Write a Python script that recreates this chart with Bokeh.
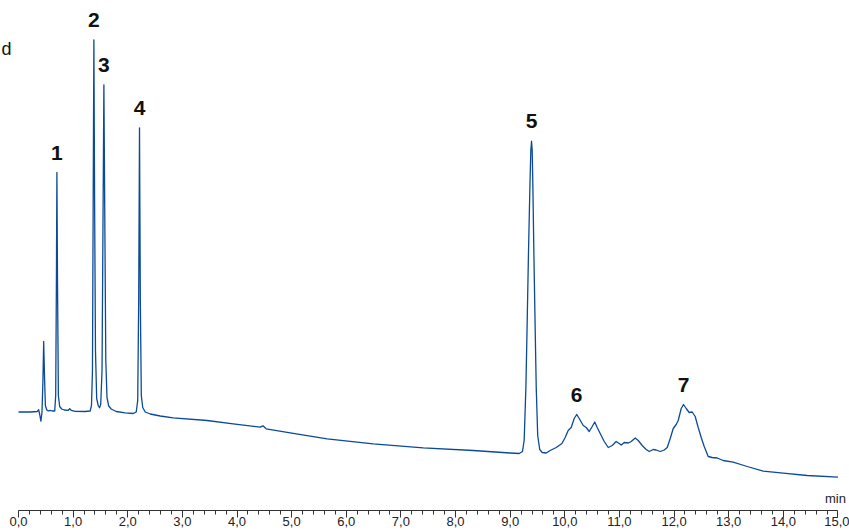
from bokeh.plotting import figure
from bokeh.models import FixedTicker, Range1d, Label, ColumnDataSource
from bokeh.core.properties import value
from bokeh.embed import file_html
from bokeh.resources import INLINE

# Chromatogram trace (time in min, signal in mAU)
time_min = [
    0.000, 0.214, 0.342, 0.370, 0.388, 0.410, 0.430, 0.447, 0.461, 0.478,
    0.492, 0.516, 0.544, 0.580, 0.617, 0.663, 0.681, 0.694, 0.703, 0.714,
    0.730, 0.754, 0.791, 0.837, 0.910, 0.937, 0.965, 1.038, 1.221, 1.312,
    1.336, 1.354, 1.367, 1.380, 1.393, 1.409, 1.431, 1.459, 1.483, 1.505,
    1.529, 1.547, 1.563, 1.580, 1.598, 1.620, 1.651, 1.697, 1.788, 1.953,
    2.100, 2.155, 2.182, 2.200, 2.215, 2.230, 2.248, 2.274, 2.320, 2.411,
    2.594, 2.832, 3.454, 3.930, 4.424, 4.474, 4.534, 4.974, 5.650, 6.493,
    7.408, 8.323, 9.000, 9.165, 9.225, 9.256, 9.288, 9.312, 9.335, 9.361,
    9.378, 9.391, 9.403, 9.416, 9.434, 9.455, 9.477, 9.504, 9.541, 9.587,
    9.660, 9.733, 9.843, 9.947, 10.007, 10.062, 10.117, 10.172, 10.218, 10.264,
    10.337, 10.392, 10.447, 10.502, 10.548, 10.593, 10.648, 10.722, 10.795, 10.868,
    10.941, 10.996, 11.033, 11.088, 11.161, 11.216, 11.289, 11.344, 11.417, 11.490,
    11.545, 11.619, 11.673, 11.747, 11.820, 11.875, 11.930, 11.985, 12.039, 12.076,
    12.131, 12.173, 12.222, 12.277, 12.332, 12.387, 12.442, 12.497, 12.552, 12.625,
    12.698, 12.790, 12.899, 13.082, 13.339, 13.632, 13.998, 14.437, 15.000,
]
signal_mau = [
    0.2, 0.2, 0.7, 2.4, -2.3, -9.0, -0.3, 31.7, 70.7, 31.7,
    6.7, 2.4, 1.2, 1.9, 1.2, 1.2, 16.7, 131.7, 239.7, 131.7,
    16.7, 5.7, 3.2, 2.2, 1.9, 3.4, 1.9, 0.9, 0.7, 1.2,
    6.7, 41.7, 211.7, 372.4, 211.7, 61.7, 13.7, 6.7, 4.4, 7.7,
    41.7, 191.7, 327.4, 191.7, 51.7, 14.7, 6.2, 3.2, 0.7, -0.6,
    -1.3, 0.2, 11.7, 111.7, 284.4, 111.7, 16.7, 4.7, 0.2, -1.8,
    -3.8, -5.6, -8.3, -11.6, -15.0, -13.6, -16.6, -20.6, -26.6, -31.6,
    -35.6, -38.3, -40.8, -41.3, -39.3, -28.3, 25.0, 91.7, 158.7, 225.0,
    261.7, 271.0, 261.7, 225.0, 158.7, 91.7, 25.0, -23.3, -37.3, -40.3,
    -40.8, -38.3, -35.3, -31.3, -25.3, -18.3, -15.3, -6.3, -2.3, -6.3,
    -13.3, -15.3, -19.3, -14.3, -9.8, -15.3, -21.3, -29.3, -35.3, -33.3,
    -29.3, -31.3, -32.8, -30.3, -30.8, -29.3, -25.8, -28.3, -33.3, -37.3,
    -39.3, -37.3, -37.8, -39.3, -37.8, -35.3, -26.3, -16.3, -12.3, -8.3,
    3.7, 7.7, 3.7, -0.3, 0.2, -4.3, -15.3, -25.3, -34.3, -44.3,
    -45.3, -45.8, -48.3, -50.0, -54.3, -59.0, -61.0, -63.3, -65.0,
]

# Peak annotations
peak_ids = ["1", "2", "3", "4", "5", "6", "7"]
peak_times = [0.703, 1.380, 1.563, 2.215, 9.391, 10.218, 12.173]
peak_heights = [239.7, 372.4, 327.4, 284.4, 271.0, -2.3, 7.7]

# Axis ticks
major_ticks = list(range(16))
tick_labels = ["0,0", "1,0", "2,0", "3,0", "4,0", "5,0", "6,0", "7,0",
               "8,0", "9,0", "10,0", "11,0", "12,0", "13,0", "14,0", "15,0"]
minor_ticks = [round(i * 0.2, 1) for i in range(76)]
x_unit = "min"
side_text = "d"  # fragment of a label at the left edge

FONT = "Liberation Sans"
PX_PER_MIN = 54.63
LABEL_GAP = 20  # signal units (1 unit = 1 px here)

p = figure(width=849, height=530, output_backend="svg", toolbar_location=None,
           x_range=Range1d(-18 / PX_PER_MIN, (849 - 18) / PX_PER_MIN),
           y_range=Range1d(-98.3, 411.7),
           min_border_left=0, min_border_right=0, min_border_top=0,
           min_border_bottom=20)
p.outline_line_color = None
p.grid.visible = False
p.yaxis.visible = False
p.background_fill_color = "white"
p.border_fill_color = "white"

trace = ColumnDataSource(dict(t=time_min, s=signal_mau))
p.line("t", "s", source=trace, line_color="#0b4a98", line_width=1.3,
       line_join="round")

peaks = ColumnDataSource(dict(t=peak_times,
                              s=[h + LABEL_GAP for h in peak_heights],
                              lab=peak_ids))
p.text("t", "s", text="lab", source=peaks, text_align="center",
       text_baseline="alphabetic",
       text_font=value(FONT), text_font_style="bold",
       text_font_size="21px", text_color="#111111")

ax = p.xaxis[0]
ax.bounds = (major_ticks[0], major_ticks[-1])
ax.ticker = FixedTicker(ticks=major_ticks, minor_ticks=minor_ticks)
ax.major_label_overrides = {t: lab for t, lab in zip(major_ticks, tick_labels)}
ax.axis_line_color = "#333333"
ax.axis_line_width = 1.2
ax.major_tick_line_color = "#333333"
ax.minor_tick_line_color = "#333333"
ax.major_tick_out = 7
ax.major_tick_in = 0
ax.minor_tick_out = 4
ax.minor_tick_in = 0
ax.major_label_standoff = -1
ax.major_label_text_font = FONT
ax.major_label_text_font_size = "13px"
ax.major_label_text_color = "#222222"

p.add_layout(Label(x=15, y=-98.3, text=x_unit, text_align="center",
                   text_baseline="bottom", x_offset=-2.5, y_offset=5,
                   text_font=FONT, text_font_size="13px",
                   text_color="#222222"))

p.add_layout(Label(x=-18 / PX_PER_MIN, y=411.7, text=side_text,
                   text_align="left", text_baseline="top",
                   x_offset=1, y_offset=-38,
                   text_font=FONT, text_font_size="18px",
                   text_color="#111111"))

open("out.html", "w").write(file_html(p, INLINE))
